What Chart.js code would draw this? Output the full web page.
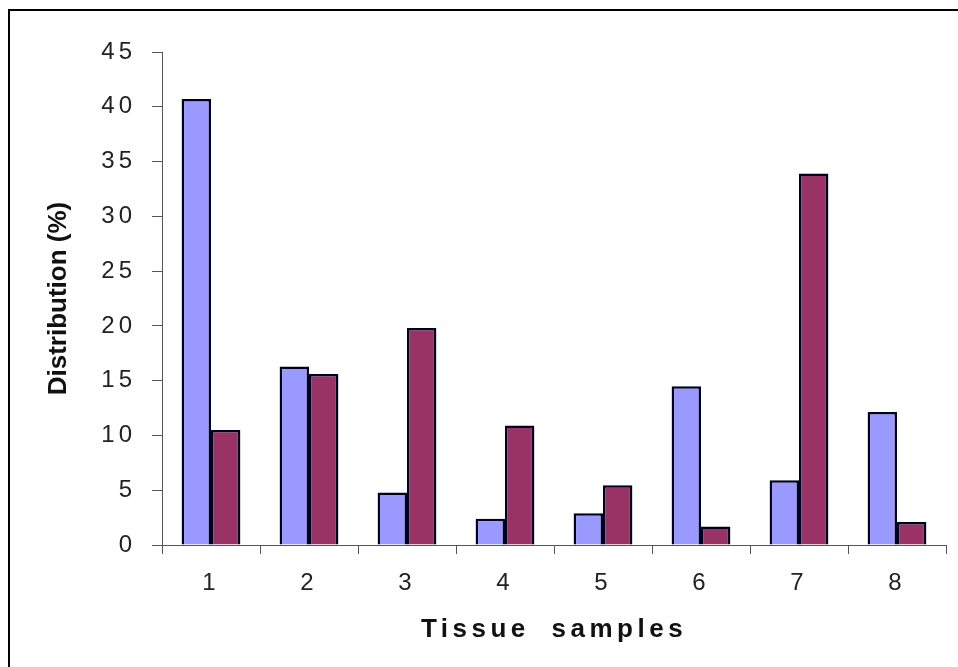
<!DOCTYPE html>
<html>
<head>
<meta charset="utf-8">
<script src="https://cdn.jsdelivr.net/npm/chart.js@4/dist/chart.umd.min.js"></script>
<style>
  html, body { margin: 0; padding: 0; background: #fff; overflow: hidden; }
  #wrap { position: relative; width: 958px; height: 667px; }
  /* outer frame of the picture, only left/top edges are visible */
  #frame { position: absolute; left: 8px; top: 9px; width: 2000px; height: 2000px;
           border-left: 2.5px solid #000; border-top: 2.5px solid #000; }
  #chart { position: absolute; left: 0; top: 0; }
</style>
</head>
<body>
<div id="wrap">
  <div id="frame"></div>
  <canvas id="chart" width="958" height="667"></canvas>
</div>
<script>
// data
const categories = ['1', '2', '3', '4', '5', '6', '7', '8']
const seriesBlue = [40.7, 16.3, 4.8, 2.4, 2.9, 14.5, 5.9, 12.15]
const seriesRed = [10.5, 15.6, 19.8, 10.9, 5.45, 1.7, 33.9, 2.1]
const yTicks = [0, 5, 10, 15, 20, 25, 30, 35, 40, 45]
const xTitle = 'Tissue samples'
const yTitle = 'Distribution (%)'

const FONT = 'Arial, "Liberation Sans", sans-serif'

// axis titles drawn by hand so the letter spacing can follow the picture
const titlesPlugin = {
  id: 'axisTitles',
  beforeDraw(chart) {
    chart.ctx.letterSpacing = '4px'
  },
  afterDraw(chart) {
    const { ctx, chartArea } = chart
    ctx.save()
    ctx.fillStyle = '#111'
    ctx.font = 'bold 26px ' + FONT

    // y title, rotated
    ctx.letterSpacing = '0px'
    ctx.save()
    ctx.translate(59, (chartArea.top + chartArea.bottom) / 2)
    ctx.rotate(-Math.PI / 2)
    ctx.textAlign = 'center'
    ctx.textBaseline = 'middle'
    ctx.fillText(yTitle, 0, 0)
    ctx.restore()

    // x title, widely spaced
    ctx.letterSpacing = '4.5px'
    ctx.wordSpacing = '10px'
    ctx.textAlign = 'center'
    ctx.textBaseline = 'alphabetic'
    ctx.fillText(xTitle, (chartArea.left + chartArea.right) / 2, 637)
    ctx.restore()
  }
}

const ctx = document.getElementById('chart').getContext('2d')
new Chart(ctx, {
  type: 'bar',
  data: {
    labels: categories,
    datasets: [
      {
        label: 'Series 1',
        data: seriesBlue,
        backgroundColor: '#9999ff',
        borderColor: '#000020',
        borderWidth: 2.5,
        borderSkipped: 'start'
      },
      {
        label: 'Series 2',
        data: seriesRed,
        backgroundColor: '#993366',
        borderColor: '#000020',
        borderWidth: 2.5,
        borderSkipped: 'start'
      }
    ]
  },
  options: {
    responsive: false,
    animation: false,
    events: [],
    layout: { padding: { left: 0, right: 12, top: 52, bottom: 0 } },
    datasets: { bar: { categoryPercentage: 0.6, barPercentage: 1.0 } },
    plugins: {
      legend: { display: false },
      tooltip: { enabled: false },
      title: { display: false }
    },
    scales: {
      x: {
        afterFit: (s) => { s.height = 122 },
        grid: { display: true, drawOnChartArea: false, offset: true, tickLength: 9, color: '#555' },
        border: { display: true, color: '#555', width: 1 },
        ticks: { color: '#222', padding: 15, font: { family: FONT, size: 24 } }
      },
      y: {
        min: yTicks[0],
        max: yTicks[yTicks.length - 1],
        afterFit: (s) => { s.width = 162 },
        afterBuildTicks: (s) => { s.ticks = yTicks.map(v => ({ value: v })) },
        grid: { display: true, drawOnChartArea: false, tickLength: 10, color: '#555' },
        border: { display: true, color: '#555', width: 1 },
        ticks: { color: '#222', padding: 16, font: { family: FONT, size: 24 } }
      }
    }
  },
  plugins: [titlesPlugin]
})
</script>
</body>
</html>
